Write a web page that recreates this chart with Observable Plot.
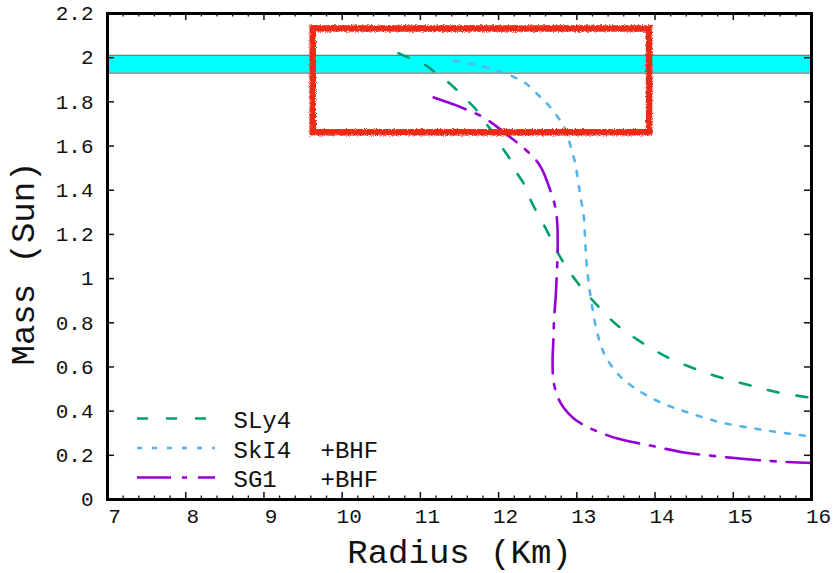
<!DOCTYPE html>
<html>
<head>
<meta charset="utf-8">
<script src="https://cdn.jsdelivr.net/npm/d3@7"></script>
<script src="https://cdn.jsdelivr.net/npm/@observablehq/plot@0.6"></script>
<style>
  html, body { margin: 0; padding: 0; background: #fff; }
  #chart svg { display: block; }
</style>
</head>
<body>
<svg width="0" height="0" style="position:absolute">
  <defs>
    <filter id="grain" x="-10%" y="-20%" width="120%" height="140%">
      <feTurbulence type="fractalNoise" baseFrequency="1.1" numOctaves="2" seed="4" result="noise"/>
      <feDisplacementMap in="SourceGraphic" in2="noise" scale="4" xChannelSelector="R" yChannelSelector="G" result="rough"/>
      <feTurbulence type="fractalNoise" baseFrequency="1.6" numOctaves="1" seed="11" result="speck"/>
      <feColorMatrix in="speck" type="matrix" values="0 0 0 0 0  0 0 0 0 0  0 0 0 0 0  0 0 0 -10 8.4" result="mask"/>
      <feComposite in="rough" in2="mask" operator="in"/>
    </filter>
  </defs>
</svg>
<div id="chart"></div>
<script>
// Mass–radius curves: [radius (km), mass (solar masses)]
const sly4 = [
  [10.72, 2.02], [10.85, 2.0], [11.07, 1.965], [11.19, 1.933], [11.36, 1.888],
  [11.47, 1.852], [11.6, 1.806], [11.7, 1.77], [11.83, 1.705], [11.9, 1.675],
  [12.05, 1.59], [12.13, 1.55], [12.24, 1.475], [12.32, 1.43], [12.43, 1.34],
  [12.61, 1.222], [12.79, 1.096], [12.99, 0.99], [13.24, 0.887], [13.49, 0.797],
  [13.75, 0.729], [14.16, 0.643], [14.5, 0.593], [14.84, 0.552], [15.22, 0.516],
  [15.57, 0.485], [16.0, 0.46]
];
const ski4 = [
  [11.43, 1.987], [11.62, 1.974], [11.81, 1.96], [12.0, 1.937], [12.18, 1.915],
  [12.35, 1.883], [12.51, 1.83], [12.64, 1.784], [12.77, 1.725], [12.86, 1.67],
  [12.92, 1.6], [12.98, 1.52], [13.03, 1.41], [13.06, 1.345], [13.09, 1.277],
  [13.11, 1.15], [13.14, 1.014], [13.19, 0.887], [13.26, 0.756], [13.35, 0.66],
  [13.52, 0.57], [13.73, 0.507], [14.07, 0.439], [14.42, 0.394], [14.84, 0.349],
  [15.27, 0.321], [15.61, 0.303], [16.0, 0.285]
];
const sg1 = [
  [11.17, 1.82], [11.46, 1.784], [11.64, 1.757], [11.81, 1.729], [12.15, 1.64],
  [12.45, 1.548], [12.55, 1.498], [12.64, 1.42], [12.72, 1.33], [12.75, 1.25],
  [12.755, 1.14], [12.75, 1.07], [12.74, 0.99], [12.73, 0.92], [12.71, 0.82],
  [12.7, 0.72], [12.69, 0.63], [12.7, 0.54], [12.75, 0.47], [12.83, 0.416],
  [12.96, 0.367], [13.18, 0.321], [13.52, 0.276], [13.94, 0.244], [14.37, 0.213],
  [14.8, 0.195], [15.22, 0.181], [15.57, 0.172], [16.0, 0.165]
];

// Series labels
const seriesNames = ["SLy4", "SkI4", "SG1"];
const seriesTags = ["", "+BHF", "+BHF"];

// Observed two-solar-mass band and the highlighted region
const massBand = [1.93, 2.01];
const highlight = {r1: 9.63, r2: 13.93, m1: 1.66, m2: 2.13};

// Axes
const xDomain = [7, 16];
const yDomain = [0, 2.2];
const xTicks = [7, 8, 9, 10, 11, 12, 13, 14, 15, 16];
const yTicks = [0, 0.2, 0.4, 0.6, 0.8, 1, 1.2, 1.4, 1.6, 1.8, 2, 2.2];
const yTickLabels = ["0", "0.2", "0.4", "0.6", "0.8", "1", "1.2", "1.4", "1.6", "1.8", "2", "2.2"];
const xMinor = d3.range(7, 16.001, 0.2).filter(v => Math.abs(v - Math.round(v)) > 1e-6);

// Styling
const curves = [sly4, ski4, sg1];
const colors = ["#009e73", "#56b4e9", "#9400d3"];
const dashes = ["11,18", "5,10", "34,11,5,11"];
const boxRed = "#ee2a12";
const font = "'Liberation Mono', 'DejaVu Sans Mono', monospace";

const W = 834, H = 573;
const margin = {top: 13, right: 23, bottom: 74, left: 107};
const innerW = W - margin.left - margin.right;
const innerH = H - margin.top - margin.bottom;
const major = 7, minor = 3.5;

const marks = [];

// band
marks.push(Plot.rect([massBand], {
  x1: () => xDomain[0], x2: () => xDomain[1], y1: d => d[0], y2: d => d[1],
  fill: "#00ffff"
}));
marks.push(Plot.ruleY(massBand, {y: d => d, stroke: "#6f7f7f", strokeWidth: 1.2}));

// curves
curves.forEach((c, i) => {
  marks.push(Plot.line(c, {
    x: d => d[0], y: d => d[1], stroke: colors[i], strokeWidth: 2.6,
    strokeDasharray: dashes[i], curve: "catmull-rom"
  }));
});

// highlighted region
marks.push(Plot.rect([highlight], {
  x1: "r1", x2: "r2", y1: "m1", y2: "m2",
  fill: "none", stroke: boxRed, strokeWidth: 6.5
}));

// legend
const legendRows = [-81, -51.5, -22];
seriesNames.forEach((name, i) => {
  marks.push(Plot.ruleY([0], {
    y: d => d, dy: legendRows[i], insetLeft: 30, insetRight: 596,
    stroke: colors[i], strokeWidth: 2.6, strokeDasharray: dashes[i]
  }));
  marks.push(Plot.text([name], {
    frameAnchor: "bottom-left", dx: 126, dy: legendRows[i] + 2, text: d => d,
    textAnchor: "start", lineAnchor: "middle", fontSize: 24, fontFamily: font, fill: "#111"
  }));
  if (seriesTags[i]) marks.push(Plot.text([seriesTags[i]], {
    frameAnchor: "bottom-left", dx: 213, dy: legendRows[i] + 2, text: d => d,
    textAnchor: "start", lineAnchor: "middle", fontSize: 24, fontFamily: font, fill: "#111"
  }));
});

// inward ticks on all four sides
marks.push(Plot.ruleX(xTicks, {x: d => d, insetTop: innerH - major, strokeWidth: 1.5}));
marks.push(Plot.ruleX(xTicks, {x: d => d, insetBottom: innerH - major, strokeWidth: 1.5}));
marks.push(Plot.ruleX(xMinor, {x: d => d, insetTop: innerH - minor, strokeWidth: 1.3}));
marks.push(Plot.ruleX(xMinor, {x: d => d, insetBottom: innerH - minor, strokeWidth: 1.3}));
marks.push(Plot.ruleY(yTicks, {y: d => d, insetRight: innerW - major, strokeWidth: 1.5}));
marks.push(Plot.ruleY(yTicks, {y: d => d, insetLeft: innerW - major, strokeWidth: 1.5}));

// tick labels
marks.push(Plot.axisX({ticks: xTicks, tickSize: 0, tickPadding: 9, dx: 7, fontSize: 21, fontFamily: font, label: null,
  tickFormat: d => String(d)}));
marks.push(Plot.axisY({ticks: yTicks, tickSize: 0, tickPadding: 14, fontSize: 21, fontFamily: font, label: null,
  tickFormat: d => yTickLabels[yTicks.indexOf(d)]}));

// axis titles
marks.push(Plot.text(["Radius (Km)"], {
  frameAnchor: "bottom", dy: 63, text: d => d, textAnchor: "middle", lineAnchor: "bottom",
  fontSize: 34, fontFamily: font, fill: "#111"
}));
marks.push(Plot.text(["Mass (Sun)"], {
  frameAnchor: "left", dx: -84, dy: 7, rotate: -90, text: d => d, textAnchor: "middle", lineAnchor: "middle",
  fontSize: 34, fontFamily: font, fill: "#111"
}));

marks.push(Plot.frame({stroke: "#000", strokeWidth: 3}));

const chart = Plot.plot({
  width: W, height: H,
  marginTop: margin.top, marginRight: margin.right, marginBottom: margin.bottom, marginLeft: margin.left,
  x: {domain: xDomain},
  y: {domain: yDomain},
  style: {fontFamily: font, color: "#111", background: "#fff"},
  marks
});

// roughen the highlight outline
chart.querySelectorAll(`[stroke="${boxRed}"]`).forEach(el => el.setAttribute("filter", "url(#grain)"));
document.getElementById("chart").appendChild(chart);
</script>
</body>
</html>
